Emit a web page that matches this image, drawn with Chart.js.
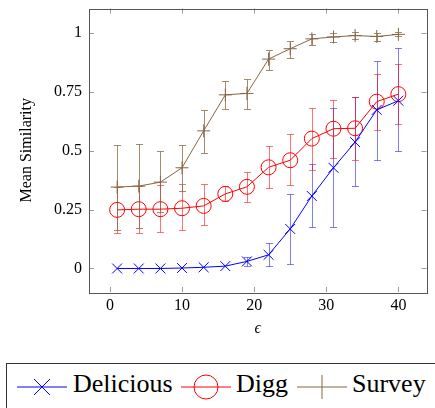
<!DOCTYPE html>
<html>
<head>
<meta charset="utf-8">
<script src="https://cdn.jsdelivr.net/npm/chart.js@4"></script>
<style>
  html, body { margin: 0; padding: 0; background: #fff; }
  #wrap { position: relative; width: 435px; height: 408px; overflow: hidden; }
  #c { position: absolute; left: 0; top: 0; }
  #legend { position: absolute; left: 6px; top: 363px; width: 440px; height: 60px;
            border: 1px solid #333; box-sizing: border-box; }
  .li { position: absolute; top: 7px; }
  .lt { position: absolute; top: 7px; font-family: "Liberation Serif", serif; font-size: 26px; line-height: 26px; color: #000; white-space: nowrap; }
</style>
</head>
<body>
<div id="wrap">
  <canvas id="c" width="435" height="340"></canvas>
  <div id="legend">
    <svg class="li" style="left:9px" width="52" height="32">
      <line x1="1" y1="16" x2="51" y2="16" stroke="#0000ff" stroke-width="1"/>
      <line x1="18" y1="8" x2="34" y2="24" stroke="#0000ff" stroke-width="1"/>
      <line x1="18" y1="24" x2="34" y2="8" stroke="#0000ff" stroke-width="1"/>
    </svg>
    <span class="lt" style="left:66px">Delicious</span>
    <svg class="li" style="left:173px" width="52" height="32">
      <line x1="1" y1="16" x2="51" y2="16" stroke="#ff0000" stroke-width="1"/>
      <circle cx="26" cy="16" r="12" fill="none" stroke="#ff0000" stroke-width="1"/>
    </svg>
    <span class="lt" style="left:229px">Digg</span>
    <svg class="li" style="left:289px" width="52" height="32">
      <line x1="1" y1="16" x2="51" y2="16" stroke="#866644" stroke-width="1"/>
      <line x1="26" y1="4" x2="26" y2="28" stroke="#866644" stroke-width="1"/>
    </svg>
    <span class="lt" style="left:345px">Survey</span>
  </div>
</div>
<script>
const epsilons = [1, 4, 7, 10, 13, 16, 19, 22, 25, 28, 31, 34, 37, 40];
const xTicks = [0, 10, 20, 30, 40];
const yTicks = [0, 0.25, 0.5, 0.75, 1];

const delicious   = [0, 0, 0, 0.002, 0.005, 0.01, 0.03, 0.058, 0.168, 0.308, 0.428, 0.537, 0.674, 0.713];
const deliciousHi = [null, null, null, null, null, null, 0.048, 0.11, 0.315, 0.446, 0.683, 0.727, 0.882, 0.937];
const deliciousLo = [null, null, null, null, null, null, 0.01, 0.01, 0.02, 0.178, 0.178, 0.35, 0.462, 0.498];

const digg   = [0.249, 0.252, 0.252, 0.256, 0.266, 0.317, 0.347, 0.43, 0.46, 0.552, 0.594, 0.596, 0.709, 0.741];
const diggHi = [0.346, 0.352, 0.355, 0.357, 0.357, 0.35, 0.41, 0.52, 0.573, 0.683, 0.718, 0.727, 0.825, 0.87];
const diggLo = [0.152, 0.152, 0.155, 0.165, 0.184, 0.285, 0.284, 0.34, 0.354, 0.42, 0.47, 0.462, 0.59, 0.614];

const survey   = [0.346, 0.35, 0.367, 0.428, 0.585, 0.738, 0.744, 0.89, 0.934, 0.976, 0.984, 0.99, 0.986, 0.995];
const surveyHi = [0.523, 0.53, 0.5, 0.523, 0.675, 0.797, 0.807, 0.93, 0.966, 0.996, 1.0, 1.005, 1.0, 1.004];
const surveyLo = [0.165, 0.17, 0.24, 0.33, 0.49, 0.676, 0.676, 0.845, 0.896, 0.95, 0.962, 0.975, 0.965, 0.986];

const BLUE = '#0000ff', RED = '#ff0000', BROWN = '#866644';

function pts(ys) { return epsilons.map((x, i) => ({ x: x, y: ys[i] })); }

const errorBars = {
  id: 'errorBars',
  beforeDatasetsDraw(chart) {
    const ctx = chart.ctx, xs = chart.scales.x, ys = chart.scales.y;
    chart.data.datasets.forEach(ds => {
      ctx.save();
      ctx.strokeStyle = ds.errColor;
      ctx.lineWidth = 1;
      epsilons.forEach((e, i) => {
        const hi = ds.errHi[i], lo = ds.errLo[i];
        if (hi === null || lo === null) return;
        const px = Math.round(xs.getPixelForValue(e)) + 0.5;
        const pHi = Math.round(ys.getPixelForValue(hi)) + 0.5;
        const pLo = Math.round(ys.getPixelForValue(lo)) + 0.5;
        ctx.beginPath();
        ctx.moveTo(px, pHi); ctx.lineTo(px, pLo);
        ctx.moveTo(px - 3.5, pHi); ctx.lineTo(px + 3.5, pHi);
        ctx.moveTo(px - 3.5, pLo); ctx.lineTo(px + 3.5, pLo);
        ctx.stroke();
      });
      ctx.restore();
    });
  }
};

const frame = {
  id: 'frame',
  afterDraw(chart) {
    const ctx = chart.ctx, a = chart.chartArea, xs = chart.scales.x, ys = chart.scales.y;
    ctx.save();
    ctx.strokeStyle = '#9a9a9a';
    ctx.lineWidth = 1;
    ctx.beginPath();
    xTicks.forEach(v => {
      const p = Math.round(xs.getPixelForValue(v)) + 0.5;
      ctx.moveTo(p, a.bottom); ctx.lineTo(p, a.bottom - 5);
      ctx.moveTo(p, a.top); ctx.lineTo(p, a.top + 5);
    });
    yTicks.forEach(v => {
      const p = Math.round(ys.getPixelForValue(v)) + 0.5;
      ctx.moveTo(a.left, p); ctx.lineTo(a.left + 5, p);
      ctx.moveTo(a.right, p); ctx.lineTo(a.right - 5, p);
    });
    ctx.stroke();
    ctx.strokeStyle = '#555';
    ctx.strokeRect(Math.round(a.left) + 0.5, Math.round(a.top) + 0.5,
                   Math.round(a.right - a.left), Math.round(a.bottom - a.top));
    ctx.restore();
  }
};

const FONT = { family: '"Liberation Serif", serif', size: 16 };

new Chart(document.getElementById('c'), {
  type: 'line',
  data: {
    datasets: [
      { label: 'Delicious', data: pts(delicious), borderColor: BLUE, backgroundColor: 'rgba(0,0,0,0)',
        pointStyle: 'crossRot', pointRadius: 7, pointBorderColor: BLUE, pointBorderWidth: 1,
        borderWidth: 1, tension: 0, errHi: deliciousHi, errLo: deliciousLo, errColor: 'rgba(0,0,255,0.5)' },
      { label: 'Digg', data: pts(digg), borderColor: RED, backgroundColor: 'rgba(0,0,0,0)',
        pointStyle: 'circle', pointRadius: 7.5, pointBorderColor: RED, pointBackgroundColor: 'rgba(0,0,0,0)',
        pointBorderWidth: 1, borderWidth: 1, tension: 0, errHi: diggHi, errLo: diggLo, errColor: 'rgba(255,0,0,0.55)' },
      { label: 'Survey', data: pts(survey), borderColor: BROWN, backgroundColor: 'rgba(0,0,0,0)',
        pointStyle: 'cross', pointRadius: 6.5, pointBorderColor: BROWN, pointBorderWidth: 1,
        borderWidth: 1, tension: 0, errHi: surveyHi, errLo: surveyLo, errColor: 'rgba(134,102,68,0.75)' }
    ]
  },
  options: {
    responsive: false,
    animation: false,
    events: [],
    layout: { padding: { top: 6, right: 1, left: 0, bottom: 0 } },
    plugins: { legend: { display: false }, tooltip: { enabled: false } },
    scales: {
      x: {
        type: 'linear', min: -2.9, max: 43.9,
        afterBuildTicks: s => { s.ticks = xTicks.map(v => ({ value: v })); },
        afterFit: s => { s.height = 48; s.paddingLeft = 0; s.paddingRight = 0; },
        grid: { display: false, drawTicks: false },
        border: { display: false },
        ticks: { font: FONT, color: '#000', padding: 4, maxRotation: 0 },
        title: { display: true, text: 'ϵ', color: '#000',
                 font: { family: '"Liberation Serif", "DejaVu Serif", serif', size: 16, style: 'italic' },
                 padding: { top: 0, bottom: 2 } }
      },
      y: {
        type: 'linear', min: -0.1, max: 1.105,
        afterBuildTicks: s => { s.ticks = yTicks.map(v => ({ value: v })); },
        afterFit: s => { s.width = 89; s.paddingTop = 0; s.paddingBottom = 0; },
        grid: { display: false, drawTicks: false },
        border: { display: false },
        ticks: { font: FONT, color: '#000', padding: 7, callback: v => String(v) },
        title: { display: true, text: 'Mean Similarity', color: '#000', font: FONT,
                 padding: { top: 17, bottom: 0 } }
      }
    }
  },
  plugins: [errorBars, frame]
});
</script>
</body>
</html>
